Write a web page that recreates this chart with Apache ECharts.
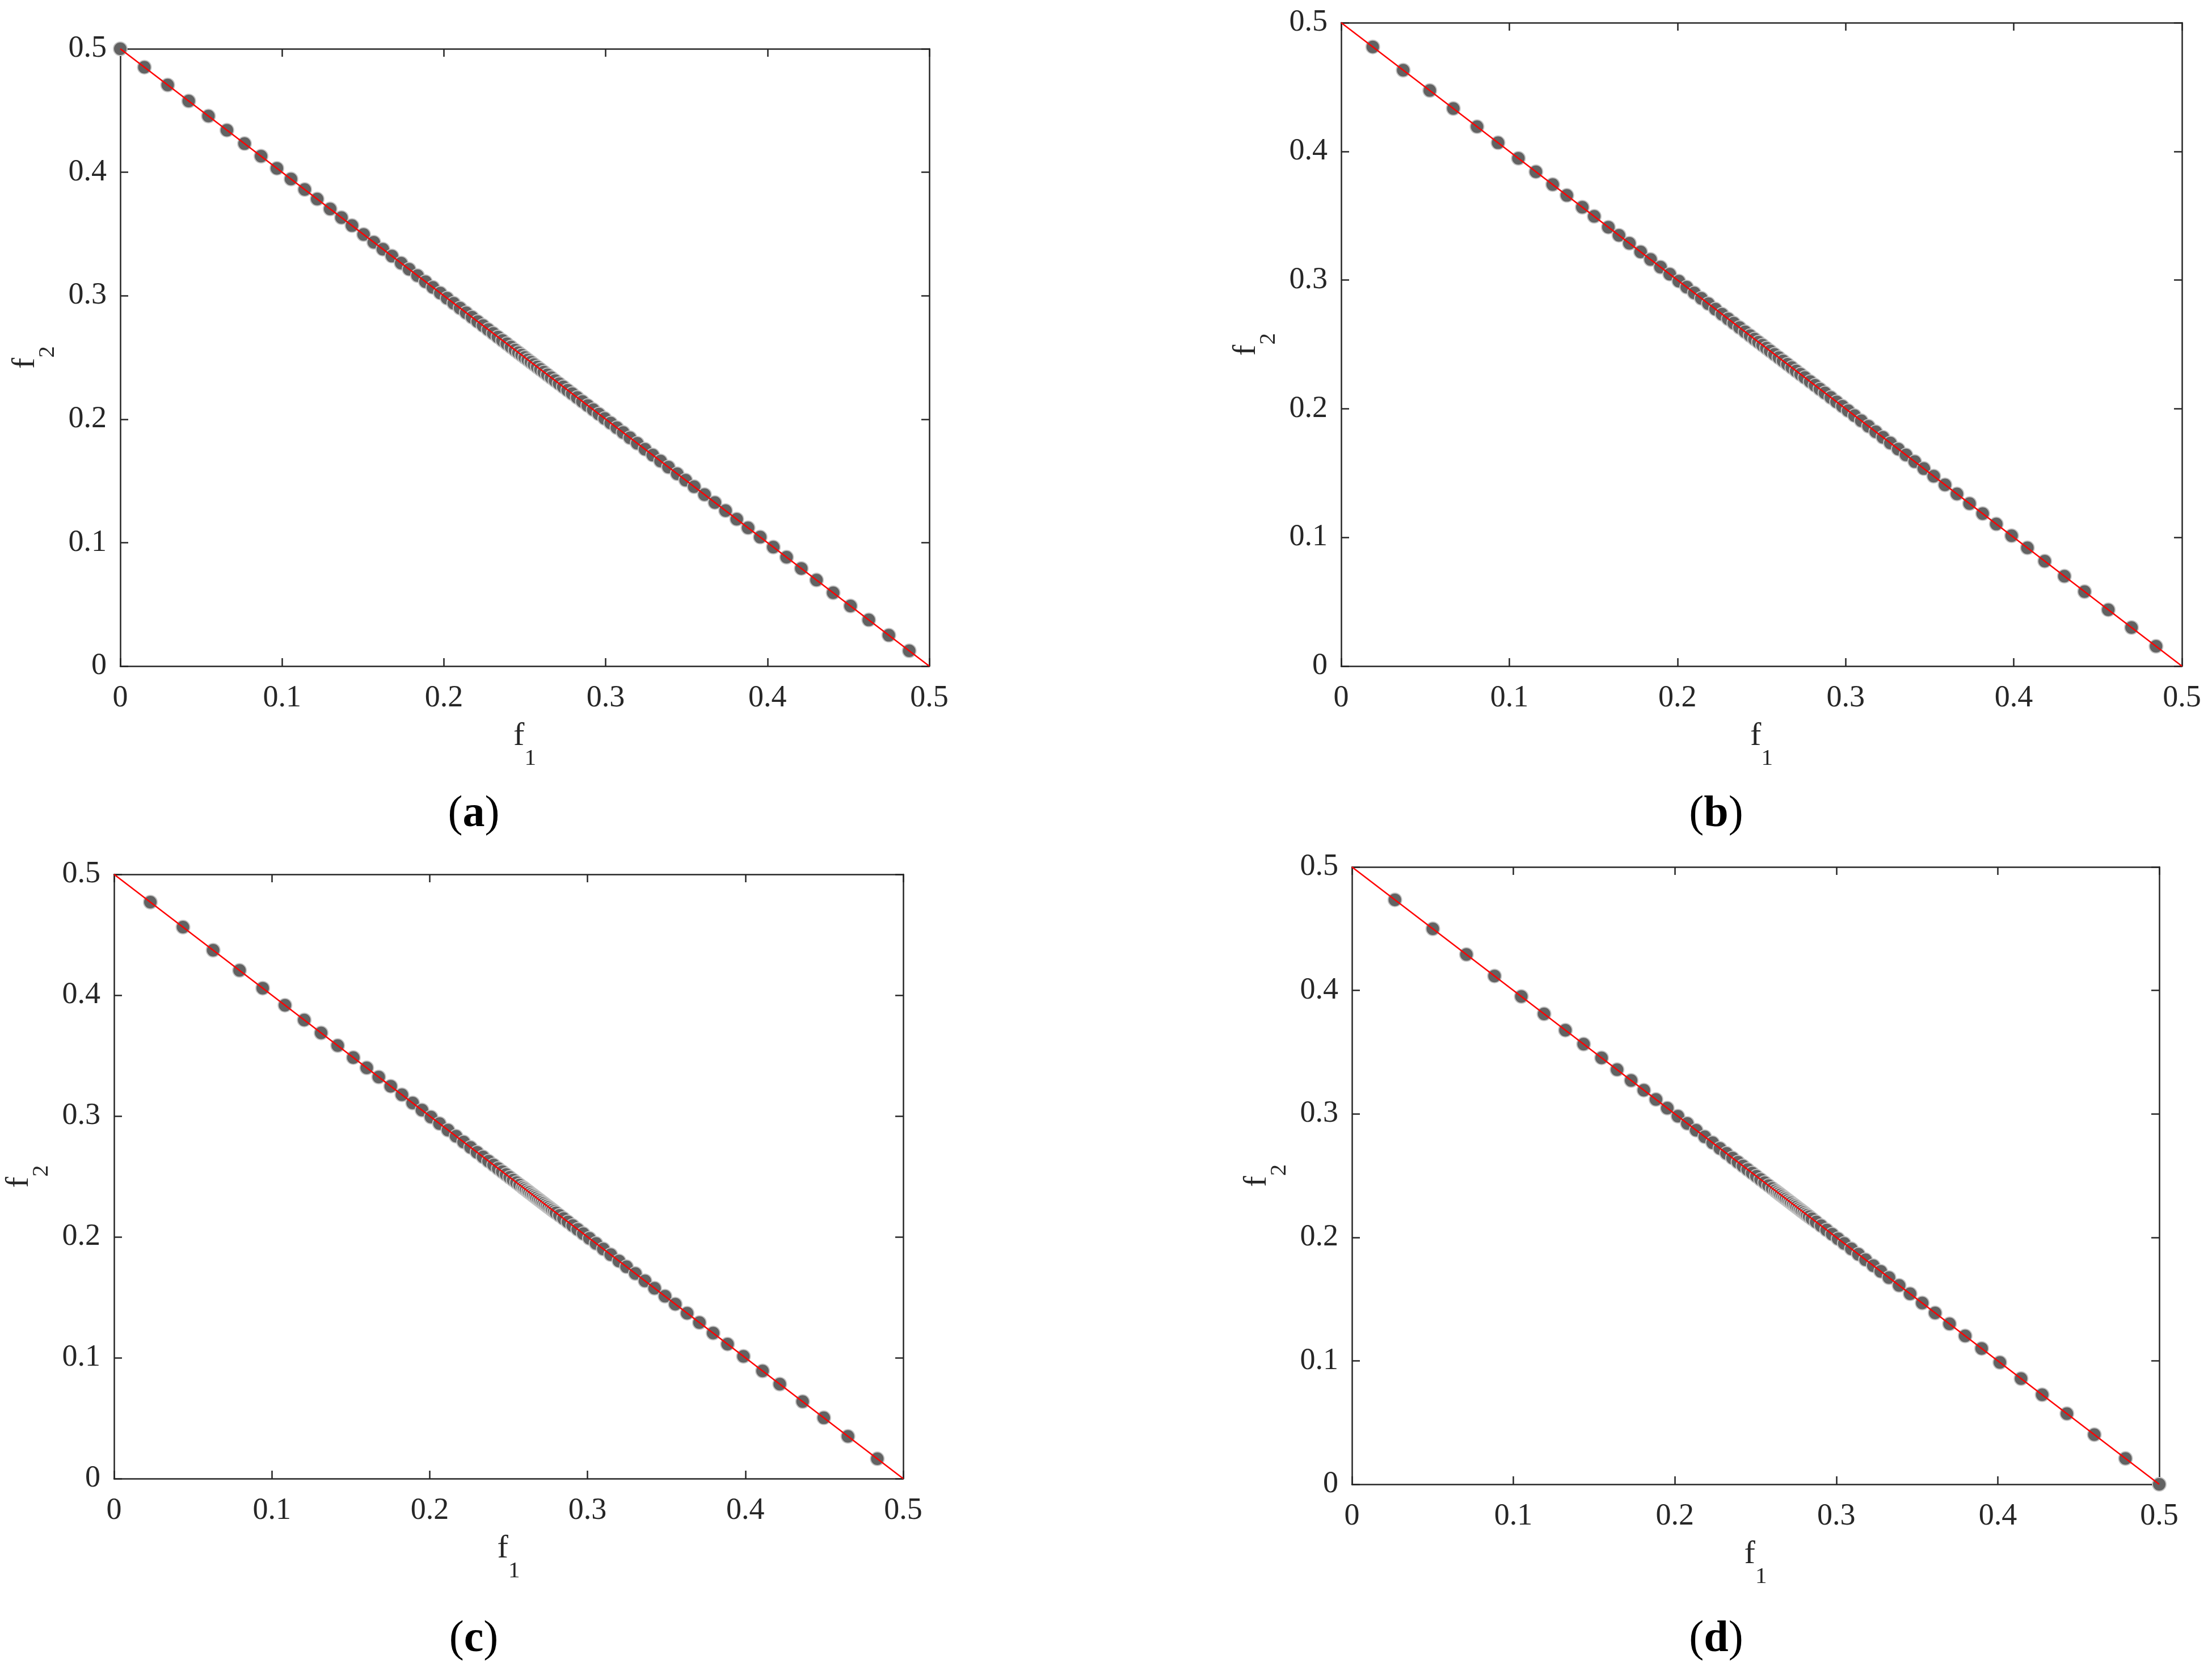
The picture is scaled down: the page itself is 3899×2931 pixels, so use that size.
<!DOCTYPE html>
<html>
<head>
<meta charset="utf-8">
<title>Pareto fronts f1-f2</title>
<script src="https://cdn.jsdelivr.net/npm/echarts@6/dist/echarts.min.js"></script>
<style>
  html, body { margin: 0; padding: 0; background: #fff; }
  #chart { width: 3899px; height: 2931px; }
</style>
</head>
<body>
<div id="chart"></div>
<script>
// obtained solutions [f1, f2]
var pointsA = [
  [0, 0.5], [0.0149, 0.4851], [0.0293, 0.4707], [0.0423, 0.4577], [0.0545, 0.4455], [0.0659, 0.4341],
  [0.0768, 0.4232], [0.0870, 0.4130], [0.0968, 0.4032], [0.1055, 0.3945], [0.1140, 0.3860], [0.1217, 0.3783],
  [0.1297, 0.3703], [0.1367, 0.3633], [0.1432, 0.3568], [0.1504, 0.3496], [0.1567, 0.3433], [0.1623, 0.3377],
  [0.1679, 0.3321], [0.1736, 0.3264], [0.1785, 0.3215], [0.1837, 0.3163], [0.1886, 0.3114], [0.1932, 0.3068],
  [0.1978, 0.3022], [0.2020, 0.2980], [0.2061, 0.2939], [0.2100, 0.2900], [0.2138, 0.2862], [0.2174, 0.2826],
  [0.2209, 0.2791], [0.2242, 0.2758], [0.2274, 0.2726], [0.2305, 0.2695], [0.2334, 0.2666], [0.2362, 0.2638],
  [0.2389, 0.2611], [0.2415, 0.2585], [0.2440, 0.2560], [0.2461, 0.2539], [0.2481, 0.2519], [0.2500, 0.2500],
  [0.2519, 0.2481], [0.2538, 0.2462], [0.2557, 0.2443], [0.2577, 0.2423], [0.2597, 0.2403], [0.2618, 0.2382],
  [0.2640, 0.2360], [0.2663, 0.2337], [0.2687, 0.2313], [0.2712, 0.2288], [0.2738, 0.2262], [0.2765, 0.2235],
  [0.2793, 0.2207], [0.2824, 0.2176], [0.2856, 0.2144], [0.2889, 0.2111], [0.2923, 0.2077], [0.2958, 0.2042],
  [0.2994, 0.2006], [0.3031, 0.1969], [0.3069, 0.1931], [0.3108, 0.1892], [0.3150, 0.1850], [0.3195, 0.1805],
  [0.3243, 0.1757], [0.3291, 0.1709], [0.3339, 0.1661], [0.3388, 0.1612], [0.3442, 0.1558], [0.3494, 0.1506],
  [0.3547, 0.1453], [0.3611, 0.1389], [0.3675, 0.1325], [0.3741, 0.1259], [0.3810, 0.1190], [0.3880, 0.1120],
  [0.3955, 0.1045], [0.4036, 0.0964], [0.4118, 0.0882], [0.4209, 0.0791], [0.4303, 0.0697], [0.4406, 0.0594],
  [0.4513, 0.0487], [0.4626, 0.0374], [0.4750, 0.0250], [0.4876, 0.0124]
];

var pointsB = [
  [0.0188, 0.4812], [0.0369, 0.4631], [0.0527, 0.4473], [0.0667, 0.4333], [0.0808, 0.4192], [0.0933, 0.4067],
  [0.1054, 0.3946], [0.1158, 0.3842], [0.1258, 0.3742], [0.1342, 0.3658], [0.1434, 0.3566], [0.1505, 0.3495],
  [0.1589, 0.3411], [0.1652, 0.3348], [0.1714, 0.3286], [0.1781, 0.3219], [0.1840, 0.3160], [0.1899, 0.3101],
  [0.1954, 0.3046], [0.2008, 0.2992], [0.2055, 0.2945], [0.2100, 0.2900], [0.2142, 0.2858], [0.2184, 0.2816],
  [0.2226, 0.2774], [0.2265, 0.2735], [0.2302, 0.2698], [0.2335, 0.2665], [0.2369, 0.2631], [0.2402, 0.2598],
  [0.2432, 0.2568], [0.2458, 0.2542], [0.2482, 0.2518], [0.2506, 0.2494], [0.2529, 0.2471], [0.2551, 0.2449],
  [0.2577, 0.2423], [0.2603, 0.2397], [0.2628, 0.2372], [0.2654, 0.2346], [0.2680, 0.2320], [0.2706, 0.2294],
  [0.2732, 0.2268], [0.2757, 0.2243], [0.2789, 0.2211], [0.2818, 0.2182], [0.2847, 0.2153], [0.2877, 0.2123],
  [0.2912, 0.2088], [0.2946, 0.2054], [0.2981, 0.2019], [0.3015, 0.1985], [0.3053, 0.1947], [0.3093, 0.1907],
  [0.3136, 0.1864], [0.3179, 0.1821], [0.3222, 0.1778], [0.3266, 0.1734], [0.3313, 0.1687], [0.3359, 0.1641],
  [0.3411, 0.1589], [0.3465, 0.1535], [0.3524, 0.1476], [0.3591, 0.1409], [0.3662, 0.1338], [0.3737, 0.1263],
  [0.3815, 0.1185], [0.3896, 0.1104], [0.3987, 0.1013], [0.4081, 0.0919], [0.4184, 0.0816], [0.4301, 0.0699],
  [0.4421, 0.0579], [0.4562, 0.0438], [0.4700, 0.0300], [0.4846, 0.0154]
];

var pointsC = [
  [0.0230, 0.4770], [0.0437, 0.4563], [0.0628, 0.4372], [0.0795, 0.4205], [0.0942, 0.4058], [0.1083, 0.3917],
  [0.1205, 0.3795], [0.1312, 0.3688], [0.1417, 0.3583], [0.1516, 0.3484], [0.1601, 0.3399], [0.1677, 0.3323],
  [0.1753, 0.3247], [0.1824, 0.3176], [0.1892, 0.3108], [0.1951, 0.3049], [0.2008, 0.2992], [0.2062, 0.2938],
  [0.2116, 0.2884], [0.2167, 0.2833], [0.2215, 0.2785], [0.2259, 0.2741], [0.2300, 0.2700], [0.2338, 0.2662],
  [0.2373, 0.2627], [0.2405, 0.2595], [0.2434, 0.2566], [0.2460, 0.2540], [0.2484, 0.2516], [0.2507, 0.2493],
  [0.2529, 0.2471], [0.2550, 0.2450], [0.2570, 0.2430], [0.2589, 0.2411], [0.2600, 0.2400], [0.2611, 0.2389],
  [0.2623, 0.2377], [0.2633, 0.2367], [0.2645, 0.2355], [0.2656, 0.2344], [0.2667, 0.2333], [0.2677, 0.2323],
  [0.2689, 0.2311], [0.2700, 0.2300], [0.2711, 0.2289], [0.2722, 0.2278], [0.2733, 0.2267], [0.2744, 0.2256],
  [0.2755, 0.2245], [0.2767, 0.2233], [0.2777, 0.2223], [0.2789, 0.2211], [0.2800, 0.2200], [0.2822, 0.2178],
  [0.2848, 0.2152], [0.2876, 0.2124], [0.2906, 0.2094], [0.2938, 0.2062], [0.2973, 0.2027], [0.3012, 0.1988],
  [0.3054, 0.1946], [0.3100, 0.1900], [0.3147, 0.1853], [0.3199, 0.1801], [0.3247, 0.1753], [0.3303, 0.1697],
  [0.3364, 0.1636], [0.3425, 0.1575], [0.3491, 0.1509], [0.3556, 0.1444], [0.3631, 0.1369], [0.3709, 0.1291],
  [0.3796, 0.1204], [0.3887, 0.1113], [0.3988, 0.1012], [0.4109, 0.0891], [0.4218, 0.0782], [0.4363, 0.0637],
  [0.4497, 0.0503], [0.4650, 0.0350], [0.4836, 0.0164]
];

var pointsD = [
  [0.0266, 0.4734], [0.0501, 0.4499], [0.0709, 0.4291], [0.0883, 0.4117], [0.1049, 0.3951], [0.1190, 0.3810],
  [0.1322, 0.3678], [0.1435, 0.3565], [0.1546, 0.3454], [0.1642, 0.3358], [0.1729, 0.3271], [0.1808, 0.3192],
  [0.1883, 0.3117], [0.1953, 0.3047], [0.2019, 0.2981], [0.2077, 0.2923], [0.2132, 0.2868], [0.2185, 0.2815],
  [0.2234, 0.2766], [0.2279, 0.2721], [0.2320, 0.2680], [0.2357, 0.2643], [0.2391, 0.2609], [0.2422, 0.2578],
  [0.2451, 0.2549], [0.2479, 0.2521], [0.2505, 0.2495], [0.2531, 0.2469], [0.2556, 0.2444], [0.2580, 0.2420],
  [0.2603, 0.2397], [0.2622, 0.2378], [0.2634, 0.2366], [0.2645, 0.2355], [0.2655, 0.2345], [0.2667, 0.2333],
  [0.2678, 0.2322], [0.2688, 0.2312], [0.2700, 0.2300], [0.2711, 0.2289], [0.2721, 0.2279], [0.2733, 0.2267],
  [0.2744, 0.2256], [0.2754, 0.2246], [0.2766, 0.2234], [0.2777, 0.2223], [0.2787, 0.2213], [0.2799, 0.2201],
  [0.2810, 0.2190], [0.2820, 0.2180], [0.2832, 0.2168], [0.2849, 0.2151], [0.2875, 0.2125], [0.2906, 0.2094],
  [0.2940, 0.2060], [0.2974, 0.2026], [0.3011, 0.1989], [0.3049, 0.1951], [0.3093, 0.1907], [0.3137, 0.1863],
  [0.3181, 0.1819], [0.3229, 0.1771], [0.3275, 0.1725], [0.3326, 0.1674], [0.3389, 0.1611], [0.3457, 0.1543],
  [0.3532, 0.1468], [0.3612, 0.1388], [0.3701, 0.1299], [0.3798, 0.1202], [0.3900, 0.1100], [0.4013, 0.0987],
  [0.4144, 0.0856], [0.4275, 0.0725], [0.4428, 0.0572], [0.4598, 0.0402], [0.4791, 0.0209], [0.5000, 0]
];

// true Pareto front, f1 + f2 = 0.5
var trueFront = [[0, 0.5], [0.5, 0]];

var axisMin = 0, axisMax = 0.5, axisStep = 0.1;
var panelTags = ['a', 'b', 'c', 'd'];

var font = 'Liberation Serif';
var ink = '#262626';

var panels = [
  { points: pointsA, grid: { left: 212, top: 86, width: 1426, height: 1088 }, tag: [835, 1436] },
  { points: pointsB, grid: { left: 2364, top: 40, width: 1482, height: 1134 }, tag: [3025, 1436] },
  { points: pointsC, grid: { left: 201, top: 1541, width: 1391, height: 1065 }, tag: [835, 2890] },
  { points: pointsD, grid: { left: 2383, top: 1528, width: 1423, height: 1088 }, tag: [3025, 2890] }
];

function nameStyle() {
  return {
    fontFamily: font, fontSize: 58, color: ink,
    rich: {
      f: { fontFamily: font, fontSize: 58, color: ink, lineHeight: 60, verticalAlign: 'top' },
      s: { fontFamily: font, fontSize: 41, color: ink, lineHeight: 136 }
    }
  };
}

function baseAxis(i) {
  return {
    type: 'value', gridIndex: i,
    min: axisMin, max: axisMax, interval: axisStep,
    splitLine: { show: false },
    axisLine: { show: true, onZero: false, lineStyle: { color: ink, width: 2.5 } },
    axisTick: { show: true, inside: true, length: 14, lineStyle: { color: ink, width: 2.5 } },
    axisLabel: { show: false }
  };
}

var grids = [], xAxes = [], yAxes = [], series = [], graphics = [];

panels.forEach(function (p, i) {
  grids.push(Object.assign({ containLabel: false }, p.grid));

  xAxes.push(Object.assign(baseAxis(i), {
    position: 'bottom',
    name: '{f|f}{s|1}', nameLocation: 'middle', nameGap: 95, nameTextStyle: nameStyle(),
    axisLabel: { show: true, margin: 30, fontFamily: font, fontSize: 54, color: ink }
  }));
  xAxes.push(Object.assign(baseAxis(i), { position: 'top' }));

  yAxes.push(Object.assign(baseAxis(i), {
    position: 'left',
    name: '{f|f}{s|2}', nameLocation: 'middle', nameRotate: 90, nameGap: 60, nameTextStyle: nameStyle(),
    axisLabel: { show: true, margin: 24, fontFamily: font, fontSize: 54, color: ink }
  }));
  yAxes.push(Object.assign(baseAxis(i), { position: 'right' }));

  series.push({
    type: 'scatter', xAxisIndex: 2 * i, yAxisIndex: 2 * i,
    data: p.points, symbol: 'circle', symbolSize: 24, clip: false, z: 2,
    itemStyle: { color: '#626262', borderColor: 'rgba(196,196,196,0.95)', borderWidth: 2, opacity: 1 }
  });
  series.push({
    type: 'line', xAxisIndex: 2 * i, yAxisIndex: 2 * i,
    data: trueFront, symbol: 'none', z: 3,
    lineStyle: { color: '#ff0000', width: 2.5 }
  });

  graphics.push({
    type: 'text', x: p.tag[0], y: p.tag[1],
    style: {
      text: '{n|(}{b|' + panelTags[i] + '}{n|)}',
      align: 'center', verticalAlign: 'middle',
      fontFamily: font, fontSize: 78, fill: '#000',
      rich: {
        n: { fontFamily: font, fontSize: 78, fontWeight: 'normal', color: '#000' },
        b: { fontFamily: font, fontSize: 78, fontWeight: 'bold', color: '#000' }
      }
    }
  });
});

var option = {
  backgroundColor: '#ffffff',
  animation: false,
  grid: grids,
  xAxis: xAxes,
  yAxis: yAxes,
  series: series,
  graphic: graphics
};

var chart = echarts.init(document.getElementById('chart'));
chart.setOption(option);
</script>
</body>
</html>
